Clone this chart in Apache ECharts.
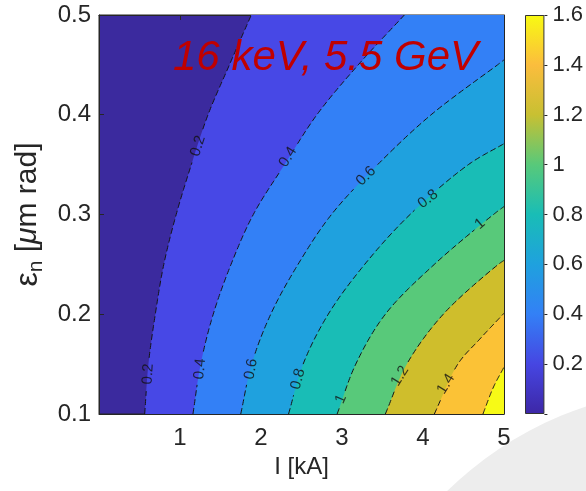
<!DOCTYPE html>
<html><head><meta charset="utf-8">
<script src="https://cdn.jsdelivr.net/npm/echarts@6/dist/echarts.min.js"></script>
<style>html,body{margin:0;padding:0;background:#fff}#c{width:586px;height:491px}</style>
</head><body><div id="c"></div>
<script>
// ---- data ----
const xTicks = [0, 1, 2, 3, 4, 5];
const yTicks = [0.1, 0.2, 0.3, 0.4, 0.5];
const cbTicks = [0.2, 0.4, 0.6, 0.8, 1, 1.2, 1.4, 1.6];
const levels = [0.2, 0.4, 0.6, 0.8, 1.0, 1.2, 1.4, 1.6];
// contour lines as [I (kA), eps_n (um rad)] points
const c02 = [[0.564,0.1],[0.61,0.15],[0.695,0.2],[0.80,0.25],[0.953,0.3],[1.14,0.35],[1.346,0.4],[1.61,0.45],[1.88,0.5]];
const c04 = [[1.16,0.1],[1.255,0.15],[1.41,0.2],[1.63,0.25],[1.905,0.3],[2.29,0.35],[2.69,0.4],[3.20,0.45],[3.77,0.5]];
const c06 = [[1.75,0.1],[1.885,0.15],[2.12,0.2],[2.457,0.25],[2.87,0.3],[3.44,0.35],[4.10,0.4],[4.92,0.45],[5,0.455]];
const c08 = [[2.34,0.1],[2.52,0.15],[2.83,0.2],[3.28,0.25],[3.84,0.3],[4.56,0.35],[5,0.371]];
const c10 = [[2.94,0.1],[3.17,0.15],[3.535,0.2],[4.14,0.25],[4.87,0.3],[5,0.308]];
const c12 = [[3.535,0.1],[3.80,0.15],[4.25,0.2],[4.93,0.25],[5,0.254]];
const c14 = [[4.14,0.1],[4.43,0.15],[4.70,0.175],[5,0.201]];
const c16 = [[4.74,0.1],[4.87,0.127],[5,0.147]];
const contours = [c02, c04, c06, c08, c10, c12, c14, c16];
// contour labels
const labelText = ['0.2','0.4','0.6','0.8','1','0.2','0.4','0.6','0.8','1','1.2','1.4'];
const labelI    = [1.222,2.333,3.296,4.062,4.704,0.605,1.247,1.877,2.457,2.988,3.716,4.284];
const labelEps  = [0.3687,0.3576,0.3386,0.3155,0.2905,0.1401,0.1451,0.1451,0.1351,0.115,0.1381,0.1301];
const labelRot  = [72,58,45,38,40,86,84,80,75,66,58,58];
// band colours (below 0.2, 0.2-0.4, ... , above 1.6)
const bandColors = ['#3b2a9e','#4748e6','#3380f6','#1fa1de','#19bdb6','#58c97a','#cfbe2c','#fbc236','#f7fa16'];
const cbStops = ['#3d27a6','#4646e2','#3380f6','#1fa1de','#19bdb6','#58c97a','#c8c032','#fbbd3d','#f8fa12'];
const title = '16 keV, 5.5 GeV';

// ---- chart ----
const FONT = '"Liberation Sans", Arial, sans-serif';
const axisCol = '#262626';
const X_MIN = 0, X_MAX = 5, Y_MIN = 0.1, Y_MAX = 0.5;
const LABEL_SIZE = 15;

// centripetal Catmull-Rom through pixel points (rendering only)
function splinePx(P, n) {
  const out = [];
  const m = P.length;
  const get = i => {
    if (i < 0) return [2 * P[0][0] - P[1][0], 2 * P[0][1] - P[1][1]];
    if (i >= m) return [2 * P[m - 1][0] - P[m - 2][0], 2 * P[m - 1][1] - P[m - 2][1]];
    return P[i];
  };
  const dist = (A, B) => Math.max(Math.pow(Math.hypot(B[0] - A[0], B[1] - A[1]), 0.5), 1e-4);
  const lerp = (A, B, ta, tb, t) => {
    const u = (t - ta) / (tb - ta);
    return [A[0] + (B[0] - A[0]) * u, A[1] + (B[1] - A[1]) * u];
  };
  for (let i = 0; i < m - 1; i++) {
    const P0 = get(i - 1), P1 = get(i), P2 = get(i + 1), P3 = get(i + 2);
    const t0 = 0, t1 = t0 + dist(P0, P1), t2 = t1 + dist(P1, P2), t3 = t2 + dist(P2, P3);
    for (let j = 0; j < n; j++) {
      const t = t1 + (t2 - t1) * j / n;
      const A1 = lerp(P0, P1, t0, t1, t), A2 = lerp(P1, P2, t1, t2, t), A3 = lerp(P2, P3, t2, t3, t);
      const B1 = lerp(A1, A2, t0, t2, t), B2 = lerp(A2, A3, t1, t3, t);
      out.push(lerp(B1, B2, t1, t2, t));
    }
  }
  out.push(P[m - 1]);
  return out;
}

function contourPx(k, api) {
  const pts = contours[k];
  const px = pts.map(p => api.coord(p));
  const last = px[px.length - 1], prev = px[px.length - 2];
  if (pts[pts.length - 1][0] < X_MAX) {
    px.push([2 * last[0] - prev[0], 2 * last[1] - prev[1]]);
  }
  return splinePx(px, 24);
}

const clipOf = cs => ({ type: 'rect', shape: { x: cs.x, y: cs.y, width: cs.width, height: cs.height } });

const fillSeries = {
  type: 'custom', xAxisIndex: 0, yAxisIndex: 0, silent: true, clip: true, z: 2,
  data: levels.map((l, k) => [k]),
  renderItem: (params, api) => {
    const k = api.value(0);
    const curve = contourPx(k, api);
    const cs = params.coordSys;
    const lastP = curve[curve.length - 1];
    const right = cs.x + cs.width + 2, bottom = cs.y + cs.height + 2;
    const poly = [[curve[0][0], bottom]].concat(curve, [[right, lastP[1]], [right, bottom]]);
    return { type: 'group', clipPath: clipOf(cs),
      children: [{ type: 'polygon', shape: { points: poly }, style: { fill: bandColors[k + 1], stroke: null } }] };
  }
};
const lineSeries = {
  type: 'custom', xAxisIndex: 0, yAxisIndex: 0, silent: true, clip: true, z: 5,
  data: levels.map((l, k) => [k]),
  renderItem: (params, api) => {
    const k = api.value(0);
    const curve = contourPx(k, api);
    const cs = params.coordSys;
    const holes = [];
    labelText.forEach((t, i) => {
      if (Math.abs(parseFloat(t) - levels[k]) < 1e-9) {
        const c = api.coord([labelI[i], labelEps[i]]);
        holes.push({ c: c, r: t.length * LABEL_SIZE * 0.28 + 3 });
      }
    });
    const segs = []; let cur = [];
    curve.forEach(p => {
      const inHole = holes.some(h => Math.hypot(p[0] - h.c[0], p[1] - h.c[1]) < h.r);
      if (inHole) { if (cur.length > 1) segs.push(cur); cur = []; }
      else cur.push(p);
    });
    if (cur.length > 1) segs.push(cur);
    return { type: 'group', clipPath: clipOf(cs),
      children: segs.map(s => ({ type: 'polyline', shape: { points: s },
        style: { fill: null, stroke: '#141414', lineWidth: 1, lineDash: [6, 3] } })) };
  }
};
const labelSeries = {
  type: 'scatter', xAxisIndex: 0, yAxisIndex: 0, symbolSize: 0, silent: true, z: 10,
  data: labelText.map((t, i) => ({
    value: [labelI[i], labelEps[i]],
    label: { show: true, formatter: t, rotate: labelRot[i], position: 'inside',
      fontSize: LABEL_SIZE, color: '#111', fontFamily: FONT }
  }))
};
const cbSeries = {
  type: 'bar', xAxisIndex: 2, yAxisIndex: 2, data: [1.6], barWidth: '100%', silent: true,
  itemStyle: {
    borderColor: '#333', borderWidth: 1,
    color: new echarts.graphic.LinearGradient(0, 1, 0, 0,
      cbStops.map((c, i) => ({ offset: i / (cbStops.length - 1), color: c })))
  }
};

const mainX = {
  type: 'value', min: X_MIN, max: X_MAX, interval: 1, gridIndex: 0,
  axisLine: { show: true, onZero: false, lineStyle: { color: axisCol, width: 1 } },
  axisTick: { show: true, inside: true, length: 5, lineStyle: { color: axisCol } },
  splitLine: { show: false }
};
const mainY = {
  type: 'value', min: Y_MIN, max: Y_MAX, interval: 0.1, gridIndex: 0,
  axisLine: { show: true, onZero: false, lineStyle: { color: axisCol, width: 1 } },
  axisTick: { show: true, inside: true, length: 5, lineStyle: { color: axisCol } },
  splitLine: { show: false }
};

const option = {
  animation: false,
  backgroundColor: '#ffffff',
  grid: [
    { left: 99, top: 15, width: 405, height: 399, show: true, backgroundColor: bandColors[0], borderColor: axisCol, borderWidth: 1, z: 0 },
    { left: 525, top: 15, width: 22, height: 399, show: false }
  ],
  xAxis: [
    Object.assign({}, mainX, {
      position: 'bottom',
      axisLabel: { fontSize: 24, color: axisCol, margin: 12, fontFamily: FONT,
        formatter: v => (xTicks.indexOf(v) > 0 ? String(v) : '') },
      name: 'I [kA]', nameLocation: 'middle', nameGap: 40,
      nameTextStyle: { fontSize: 24, color: axisCol, fontFamily: FONT }
    }),
    Object.assign({}, mainX, { position: 'top', axisLabel: { show: false } }),
    { type: 'category', gridIndex: 1, data: ['cb'], show: false }
  ],
  yAxis: [
    Object.assign({}, mainY, {
      position: 'left',
      axisLabel: { fontSize: 24, color: axisCol, margin: 8, fontFamily: FONT,
        formatter: v => (yTicks.some(t => Math.abs(t - v) < 1e-9) ? v.toFixed(1) : '') },
      name: '{e|ε}{s|n}{t| [}{m|μ}{t|m rad]}', nameLocation: 'middle', nameGap: 47, nameRotate: 90,
      nameTextStyle: {
        color: axisCol, fontFamily: FONT, fontSize: 30,
        rich: {
          e: { fontSize: 32, lineHeight: 38, color: axisCol, fontFamily: FONT },
          s: { fontSize: 21, lineHeight: 21, verticalAlign: 'bottom', color: axisCol, fontFamily: FONT },
          t: { fontSize: 30, lineHeight: 38, color: axisCol, fontFamily: FONT },
          m: { fontSize: 30, lineHeight: 38, fontStyle: 'italic', color: axisCol, fontFamily: FONT }
        }
      }
    }),
    Object.assign({}, mainY, { position: 'right', axisLabel: { show: false } }),
    {
      type: 'value', gridIndex: 1, min: 0, max: 1.6, interval: 0.2, position: 'right',
      axisLine: { show: false },
      axisTick: { show: true, inside: false, length: 3, lineStyle: { color: axisCol } },
      splitLine: { show: false },
      axisLabel: { fontSize: 22, color: axisCol, margin: 8, fontFamily: FONT,
        formatter: v => { const t = cbTicks.find(c => Math.abs(c - v) < 1e-9); return t === undefined ? '' : String(t); } }
    }
  ],
  graphic: [
    { type: 'circle', shape: { cx: 700, cy: 750, r: 362 }, style: { fill: '#ededed' }, z: -10, silent: true },
    { type: 'text', left: 173, top: 37, z: 100, silent: true,
      style: { text: title, font: 'italic 42px "Liberation Sans", Arial, sans-serif', fill: '#c00000',
        shadowBlur: 3, shadowColor: 'rgba(0,0,0,0.45)', shadowOffsetX: 2, shadowOffsetY: 2 } }
  ],
  series: [fillSeries, lineSeries, labelSeries, cbSeries]
};
const chart = echarts.init(document.getElementById('c'), null, { renderer: 'canvas' });
chart.setOption(option);
</script></body></html>
